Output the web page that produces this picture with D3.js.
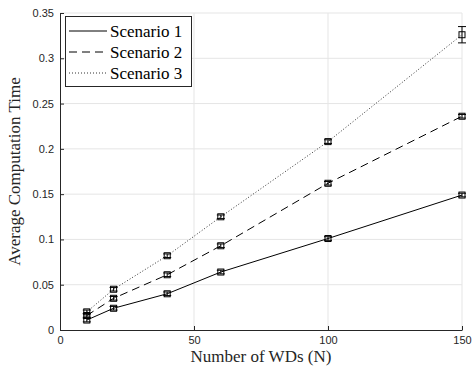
<!DOCTYPE html>
<meta charset="utf-8">
<style>
body { margin: 0; background: #fff; }
.tick text { font-family: "Liberation Sans", Arial, sans-serif; font-size: 11px; fill: #262626; }
.serif { font-family: "Liberation Serif", "DejaVu Serif", serif; }
</style>
<body>
<script src="https://d3js.org/d3.v7.min.js"></script>
<script>

var xValues = [10, 20, 40, 60, 100, 150];
var scenario1 = [0.011, 0.024, 0.040, 0.064, 0.101, 0.149];
var scenario2 = [0.016, 0.035, 0.061, 0.093, 0.162, 0.236];
var scenario3 = [0.020, 0.045, 0.082, 0.125, 0.208, 0.326];
var err1 = [0.002, 0.002, 0.002, 0.002, 0.002, 0.002];
var err2 = [0.002, 0.002, 0.002, 0.002, 0.002, 0.002];
var err3 = [0.002, 0.002, 0.002, 0.002, 0.002, 0.009];
var seriesNames = ["Scenario 1", "Scenario 2", "Scenario 3"];
var xTicks = [0, 50, 100, 150];
var yTicks = [0, 0.05, 0.1, 0.15, 0.2, 0.25, 0.3, 0.35];

var width = 472, height = 366;
var margin = {left: 60, right: 10, top: 13, bottom: 36};

var svg = d3.select("body").append("svg")
    .attr("width", width)
    .attr("height", height);

var x = d3.scaleLinear().domain([0, 150]).range([margin.left, width - margin.right]);
var y = d3.scaleLinear().domain([0, 0.35]).range([height - margin.bottom, margin.top]);

// grid
svg.append("g").selectAll("line").data(xTicks.slice(1)).enter().append("line")
    .attr("x1", d => x(d)).attr("x2", d => x(d))
    .attr("y1", y(0)).attr("y2", y(0.35))
    .attr("stroke", "#e5e5e5").attr("stroke-width", 1);
svg.append("g").selectAll("line").data(yTicks.slice(1)).enter().append("line")
    .attr("x1", x(0)).attr("x2", x(150))
    .attr("y1", d => y(d)).attr("y2", d => y(d))
    .attr("stroke", "#e5e5e5").attr("stroke-width", 1);

// axes
svg.append("g")
    .attr("transform", "translate(0," + y(0) + ")")
    .call(d3.axisBottom(x).tickValues(xTicks).tickSizeInner(-4).tickSizeOuter(0).tickPadding(6).tickFormat(d3.format("d")));
svg.append("g")
    .attr("transform", "translate(" + x(0) + ",0)")
    .call(d3.axisLeft(y).tickValues(yTicks).tickSizeInner(-4).tickSizeOuter(0).tickPadding(6).tickFormat(d => d === 0 ? "0" : String(+d.toFixed(2))));
svg.selectAll(".domain").attr("stroke", "#262626");
svg.selectAll(".tick line").attr("stroke", "#262626");

// series
var series = [
  {name: seriesNames[0], values: scenario1, err: err1, dash: null, color: "#000"},
  {name: seriesNames[1], values: scenario2, err: err2, dash: "8,5", color: "#000"},
  {name: seriesNames[2], values: scenario3, err: err3, dash: "1,2", color: "#333"}
];

var line = d3.line().x(d => x(d[0])).y(d => y(d[1]));

series.forEach(function(s) {
  var pts = xValues.map((v, i) => [v, s.values[i], s.err[i]]);
  svg.append("path")
      .datum(pts)
      .attr("d", line)
      .attr("fill", "none")
      .attr("stroke", s.color)
      .attr("stroke-width", 1)
      .attr("stroke-dasharray", s.dash);
  var g = svg.append("g").selectAll("g").data(pts).enter().append("g");
  g.append("line")
      .attr("x1", d => x(d[0])).attr("x2", d => x(d[0]))
      .attr("y1", d => y(d[1] - d[2])).attr("y2", d => y(d[1] + d[2]))
      .attr("stroke", "#000");
  g.append("line")
      .attr("x1", d => x(d[0]) - 4).attr("x2", d => x(d[0]) + 4)
      .attr("y1", d => y(d[1] - d[2])).attr("y2", d => y(d[1] - d[2]))
      .attr("stroke", "#000");
  g.append("line")
      .attr("x1", d => x(d[0]) - 4).attr("x2", d => x(d[0]) + 4)
      .attr("y1", d => y(d[1] + d[2])).attr("y2", d => y(d[1] + d[2]))
      .attr("stroke", "#000");
  g.append("rect")
      .attr("x", d => x(d[0]) - 3).attr("y", d => y(d[1]) - 3)
      .attr("width", 6).attr("height", 6)
      .attr("fill", "none").attr("stroke", "#000").attr("stroke-width", 1);
});

// axis labels
svg.append("text")
    .attr("class", "serif")
    .attr("x", (x(0) + x(150)) / 2).attr("y", 362)
    .attr("text-anchor", "middle")
    .attr("font-size", 17)
    .attr("fill", "#262626")
    .text("Number of WDs (N)");
svg.append("text")
    .attr("class", "serif")
    .attr("transform", "translate(20," + ((y(0) + y(0.35)) / 2) + ") rotate(-90)")
    .attr("text-anchor", "middle")
    .attr("font-size", 17)
    .attr("fill", "#262626")
    .text("Average Computation Time");

// legend
var legend = svg.append("g").attr("transform", "translate(65,16)");
legend.append("rect")
    .attr("x", 0.5).attr("y", 0.5).attr("width", 126).attr("height", 70)
    .attr("fill", "#fff").attr("stroke", "#262626").attr("stroke-width", 1);
series.forEach(function(s, i) {
  var ly = 15 + i * 21;
  legend.append("line")
      .attr("x1", 4).attr("x2", 42).attr("y1", ly).attr("y2", ly)
      .attr("stroke", s.color).attr("stroke-dasharray", s.dash);
  legend.append("text")
      .attr("class", "serif")
      .attr("x", 45).attr("y", ly + 6)
      .attr("font-size", 17)
      .attr("fill", "#000")
      .text(s.name);
});

</script>
